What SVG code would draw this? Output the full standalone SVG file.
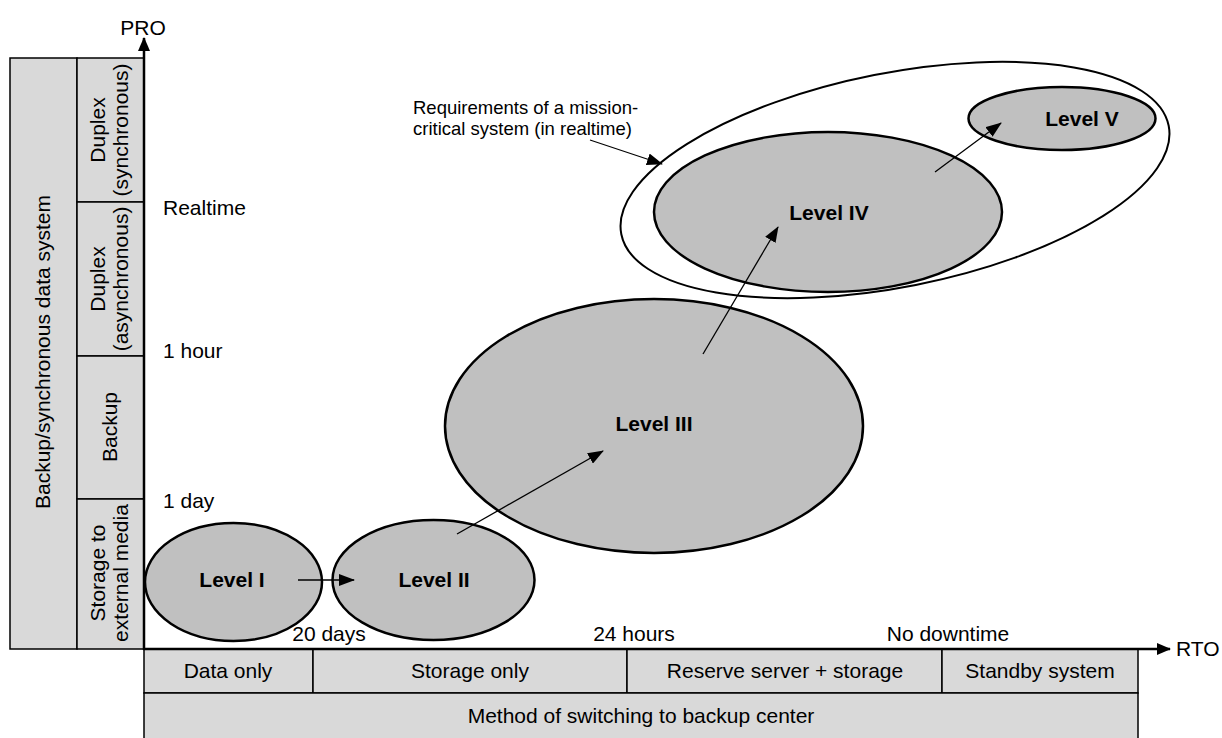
<svg xmlns="http://www.w3.org/2000/svg" width="1222" height="738" viewBox="0 0 1222 738">
<style>
text{font-family:"Liberation Sans",Arial,sans-serif;font-size:21px;fill:#000}
.b{font-weight:bold}
.c{text-anchor:middle}
.s{font-size:18.5px}
.panel{fill:#d9d9d9;stroke:#000;stroke-width:1.5}
.lv{fill:#c0c0c0;stroke:#000;stroke-width:2.5}
.axis{stroke:#000;stroke-width:2.5;fill:none}
.conn{stroke:#000;stroke-width:1.3;fill:none;marker-end:url(#ah)}
</style>
<defs>
<marker id="ah" markerUnits="userSpaceOnUse" markerWidth="16" markerHeight="12" refX="15" refY="6" orient="auto">
<path d="M0,0 L16,6 L0,12 z" fill="#000"/>
</marker>
<marker id="ax" markerUnits="userSpaceOnUse" markerWidth="14" markerHeight="12" refX="13" refY="6" orient="auto">
<path d="M0,0 L14,6 L0,12 z" fill="#000"/>
</marker>
</defs>

<g id="left-panel">
<rect class="panel" x="10" y="58" width="67" height="591"/>
<rect class="panel" x="77" y="58" width="67" height="144"/>
<rect class="panel" x="77" y="202" width="67" height="154"/>
<rect class="panel" x="77" y="356" width="67" height="143"/>
<rect class="panel" x="77" y="499" width="67" height="150"/>
<text class="c" dy="0.35em" transform="translate(43,352) rotate(-90)">Backup/synchronous data system</text>
<text class="c" dy="0.35em" transform="translate(98,130) rotate(-90)">Duplex</text>
<text class="c" dy="0.35em" transform="translate(121,130) rotate(-90)">(synchronous)</text>
<text class="c" dy="0.35em" transform="translate(98,279) rotate(-90)">Duplex</text>
<text class="c" dy="0.35em" transform="translate(121,279) rotate(-90)">(asynchronous)</text>
<text class="c" dy="0.35em" transform="translate(110,427) rotate(-90)">Backup</text>
<text class="c" dy="0.35em" transform="translate(98,573) rotate(-90)">Storage to</text>
<text class="c" dy="0.35em" transform="translate(121,573) rotate(-90)">external media</text>
</g>

<g id="bottom-panel">
<rect class="panel" x="144" y="649" width="169" height="44"/>
<rect class="panel" x="313" y="649" width="314" height="44"/>
<rect class="panel" x="627" y="649" width="315" height="44"/>
<rect class="panel" x="942" y="649" width="196" height="44"/>
<rect class="panel" x="144" y="693" width="994" height="47"/>
<text class="c" x="228" y="678">Data only</text>
<text class="c" x="470" y="678">Storage only</text>
<text class="c" x="785" y="678">Reserve server + storage</text>
<text class="c" x="1040" y="678">Standby system</text>
<text class="c" x="641" y="723">Method of switching to backup center</text>
</g>

<g id="axes">
<line class="axis" x1="144" y1="650" x2="144" y2="38" marker-end="url(#ax)"/>
<line class="axis" x1="143" y1="649" x2="1170" y2="649" marker-end="url(#ax)"/>
<text class="c" x="143" y="35">PRO</text>
<text x="1176" y="656">RTO</text>
<text x="163" y="215">Realtime</text>
<text x="163" y="358">1 hour</text>
<text x="163" y="508">1 day</text>
<text class="c" x="329" y="641">20 days</text>
<text class="c" x="634" y="641">24 hours</text>
<text class="c" x="948" y="641">No downtime</text>
</g>

<g id="mission-critical">
<ellipse cx="895" cy="180" rx="279" ry="107" transform="rotate(-11.2 895 180)" fill="none" stroke="#000" stroke-width="2"/>
<text class="s" x="413" y="114">Requirements of a mission-</text>
<text class="s" x="413" y="135">critical system (in realtime)</text>
</g>

<g id="level1">
<ellipse class="lv" cx="233.5" cy="582" rx="88.5" ry="59"/>
<text class="b c" x="232" y="587">Level I</text>
</g>
<g id="level2">
<ellipse class="lv" cx="433.5" cy="580" rx="101" ry="60"/>
<text class="b c" x="434" y="587">Level II</text>
</g>
<g id="level3">
<ellipse class="lv" cx="654" cy="426" rx="209" ry="127"/>
<text class="b c" x="654" y="431">Level III</text>
</g>
<g id="level4">
<ellipse class="lv" cx="828" cy="212" rx="174" ry="80"/>
<text class="b c" x="829" y="220">Level IV</text>
</g>
<g id="level5">
<ellipse class="lv" cx="1062" cy="118.5" rx="93.5" ry="31.5"/>
<text class="b c" x="1082" y="126">Level V</text>
</g>

<g id="connectors">
<line class="conn" x1="298" y1="580" x2="354" y2="580"/>
<line class="conn" x1="457" y1="534" x2="603" y2="451"/>
<line class="conn" x1="703" y1="354" x2="778" y2="227"/>
<line class="conn" x1="935" y1="172" x2="1001" y2="123"/>
<line class="conn" x1="590" y1="140" x2="662" y2="164"/>
</g>
</svg>
